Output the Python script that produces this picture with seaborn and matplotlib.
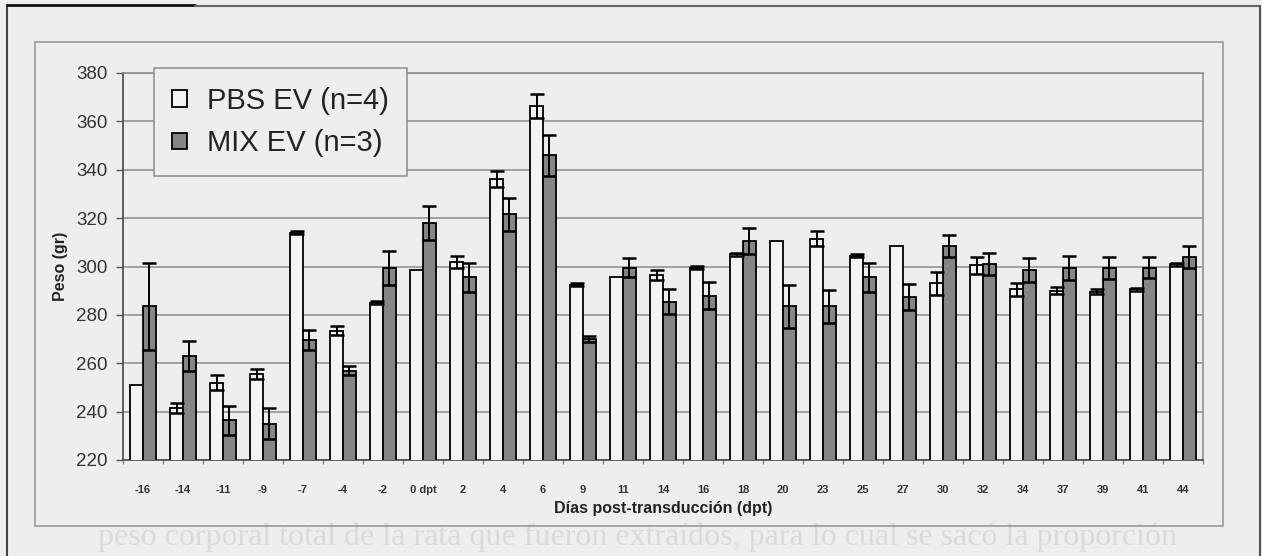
import numpy as np
import pandas as pd
import matplotlib
matplotlib.use("Agg")
import matplotlib.pyplot as plt
import seaborn as sns
from matplotlib.lines import Line2D
from matplotlib.patches import Rectangle

# ---------------- data ----------------
days = ['-16', '-14', '-11', '-9', '-7', '-4', '-2', '0 dpt', '2', '4', '6', '9', '11',
        '14', '16', '18', '20', '23', '25', '27', '30', '32', '34', '37', '39', '41', '44']
groups = ['PBS EV (n=4)', 'MIX EV (n=3)']
pbs_mean = [251, 241.5, 252, 255.5, 314, 273.5, 285, 298.5, 302, 336, 366.5, 292.5, 295.5,
            296.5, 299.5, 305, 310.5, 311.5, 304.5, 308.5, 293, 300.5, 290.5, 290, 289.5, 290.5, 301]
pbs_err = [0, 2, 3, 2, 0.6, 2, 0.6, 0, 2.5, 3.3, 5, 0.5, 0,
           2, 0.6, 0.6, 0, 3, 0.6, 0, 4.6, 3.4, 2.6, 1.4, 1, 0.8, 0.6]
mix_mean = [283.5, 263, 236.5, 235, 269.5, 257, 299.5, 318, 295.5, 321.5, 346, 270, 299.5,
            285.5, 288, 310.5, 283.5, 283.5, 295.5, 287.5, 308.5, 301, 298.5, 299.5, 299.5, 299.5, 304]
mix_err = [18, 6.3, 6, 6.4, 4.2, 1.7, 7, 7, 6, 7, 8.5, 1.4, 4,
           5, 5.5, 5.4, 9, 6.8, 5.9, 5.3, 4.5, 4.6, 5, 5, 4.6, 4.4, 4.5]
yticks = [220, 240, 260, 280, 300, 320, 340, 360, 380]

df = pd.DataFrame({
    'day': days * 2,
    'peso': pbs_mean + mix_mean,
    'group': [groups[0]] * len(days) + [groups[1]] * len(days),
})

# ---------------- style ----------------
sns.set_theme(style="white")
plt.rcParams['font.family'] = ['Liberation Sans', 'DejaVu Sans']

BG = '#eeeeee'
fig = plt.figure(figsize=(12.62, 5.56), dpi=100, facecolor=BG)
W, H = 1262, 556

def fx(px):
    return px / W

def fy(py):
    return 1 - py / H

# faint bleed-through line of the scanned page, below the chart frame
fig.text(fx(637), fy(537), 'peso corporal total de la rata que fueron extraídos, para lo cual se sacó la proporción',
         ha='center', va='center', fontsize=23, family='Liberation Serif', color='#dadada', zorder=-5)

# page border lines
fig.add_artist(Line2D([fx(7), fx(7)], [fy(5), 0], color='#444444', lw=1.5))
fig.add_artist(Line2D([fx(7), fx(195)], [fy(5), fy(5)], color='#111111', lw=2))
fig.add_artist(Line2D([fx(195), fx(1260)], [fy(6), fy(6)], color='#666666', lw=1.5))
fig.add_artist(Line2D([fx(1260), fx(1260)], [fy(6), 0], color='#555555', lw=1.5))
# chart frame
fig.add_artist(Rectangle((fx(35), fy(526)), fx(1223) - fx(35), fy(42) - fy(526),
                         fill=False, edgecolor='#9a9a9a', lw=1.2))

ax = fig.add_axes([fx(123), fy(460), fx(1203) - fx(123), fy(73) - fy(460)])
ax.patch.set_alpha(0)

sns.barplot(data=df, x='day', y='peso', hue='group', order=days, hue_order=groups,
            palette={groups[0]: '#f4f4f4', groups[1]: '#858585'},
            width=0.63, edgecolor='black', linewidth=1.3, errorbar=None,
            saturation=1, ax=ax, zorder=3)

# error bars on the seaborn bars
for cont, errs in zip(ax.containers, [pbs_err, mix_err]):
    xs, ys, es = [], [], []
    for p, e in zip(cont.patches, errs):
        if e > 0:
            xs.append(p.get_x() + p.get_width() / 2)
            ys.append(p.get_height())
            es.append(e)
    ax.errorbar(xs, ys, yerr=es, fmt='none', ecolor='black', elinewidth=1.4,
                capsize=5, capthick=1.8, zorder=4)

ax.set_ylim(220, 380)
ax.set_yticks(yticks)
ax.grid(axis='y', color='#8c8c8c', lw=1.1, zorder=0)
ax.set_axisbelow(True)

for s in ['top', 'right']:
    ax.spines[s].set_color('#8c8c8c')
    ax.spines[s].set_linewidth(1.1)
for s in ['left', 'bottom']:
    ax.spines[s].set_color('#555555')
    ax.spines[s].set_linewidth(1.3)

ax.tick_params(axis='y', which='major', left=True, length=5, width=1, color='#555555',
               labelsize=13.5, labelcolor='#333333', pad=6)
ax.tick_params(axis='x', which='major', bottom=False, labelsize=8, labelcolor='#333333', pad=12)
for t in ax.get_xticklabels():
    t.set_fontweight('bold')
ax.set_xticks(np.arange(len(days) + 1) - 0.5, minor=True)
ax.tick_params(axis='x', which='minor', bottom=True, length=3, width=1, color='#888888')
ax.set_xlim(-0.5, len(days) - 0.5)

ax.set_ylabel('Peso (gr)', fontsize=11.5, fontweight='bold', color='#222222')
ax.yaxis.set_label_coords(-0.051, 0.5)
ax.set_xlabel('Días post-transducción (dpt)', fontsize=11.5, fontweight='bold', color='#222222')
ax.xaxis.set_label_coords(0.5, -0.105)

handles, labels = ax.get_legend_handles_labels()
leg = ax.legend(handles, labels, loc='upper left', bbox_to_anchor=(0.0287, 1.012),
                borderaxespad=0, fontsize=21, frameon=True, fancybox=False,
                handlelength=0.5, handleheight=0.5, handletextpad=0.68,
                borderpad=0.63, labelspacing=0.5, framealpha=1)
leg.get_frame().set_facecolor(BG)
leg.get_frame().set_edgecolor('#8c8c8c')
leg.get_frame().set_linewidth(1.1)
for t in leg.get_texts():
    t.set_color('#222222')
leg.set_zorder(10)

fig.savefig('out.png', dpi=100, facecolor=BG)
